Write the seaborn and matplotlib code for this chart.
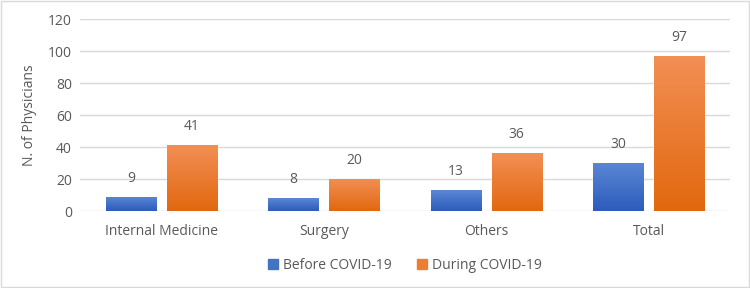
import matplotlib.pyplot as plt
import matplotlib.patches as mpatches
import matplotlib.colors as mcolors
import seaborn as sns
import numpy as np
import pandas as pd

categories = ['Internal Medicine', 'Surgery', 'Others', 'Total']
before = [9, 8, 13, 30]
during = [41, 20, 36, 97]
series = ['Before COVID-19', 'During COVID-19']

df = pd.DataFrame({
    'category': categories * 2,
    'period': [series[0]] * 4 + [series[1]] * 4,
    'value': before + during,
})

sns.set_style('white')
plt.rcParams['font.family'] = ['Open Sans', 'DejaVu Sans']

grey = '#595959'
colors = {series[0]: '#4472c4', series[1]: '#ed7d31'}
# top / bottom colours of the gradient fill
grads = {series[0]: ('#5b87d4', '#2c5cbc'), series[1]: ('#f28f55', '#e2680f')}

fig = plt.figure(figsize=(7.5, 2.88), dpi=100)
ax = fig.add_axes([0.107, 0.267, 0.866, 0.667])

sns.barplot(df, x='category', y='value', hue='period', palette=colors,
            width=0.752, gap=0.18, ax=ax, legend=True)

ax.set_ylim(0, 120)
ax.set_yticks(range(0, 121, 20))
ax.yaxis.grid(True, color='#d9d9d9', lw=1)
ax.set_axisbelow(True)
for s in ax.spines.values():
    s.set_visible(False)
ax.tick_params(axis='both', length=0, colors=grey, labelsize=10)
ax.tick_params(axis='x', pad=9)
ax.tick_params(axis='y', pad=6)
ax.set_xlabel('')
ax.set_ylabel('N. of Physicians', color=grey, fontsize=10, labelpad=8)

# gradient fill + value labels
for cont, name in zip(ax.containers, series):
    top, bot = grads[name]
    cmap = mcolors.LinearSegmentedColormap.from_list(name, [bot, top])
    grad = np.linspace(0, 1, 100).reshape(-1, 1)
    for p in cont.patches:
        x0, w, h = p.get_x(), p.get_width(), p.get_height()
        im = ax.imshow(grad, cmap=cmap, aspect='auto', origin='lower',
                       extent=[x0, x0 + w, 0, h], zorder=p.get_zorder() + 0.1)
        im.set_clip_path(p)
    ax.bar_label(cont, padding=8, color=grey, fontsize=10)

ax.set_xlim(-0.5, 3.5)

handles = [mpatches.Patch(color=colors[s]) for s in series]
ax.legend(handles, series, loc='upper center', bbox_to_anchor=(0.5, -0.18),
          ncol=2, frameon=False, handlelength=0.7, handleheight=0.7,
          handletextpad=0.4, columnspacing=1.8, fontsize=10, labelcolor=grey)

fig.patches.append(mpatches.Rectangle((0.001, 0.002), 0.997, 0.995, transform=fig.transFigure,
                                      fill=False, edgecolor='#d9d9d9', lw=1))

fig.savefig('out.png', dpi=100)
